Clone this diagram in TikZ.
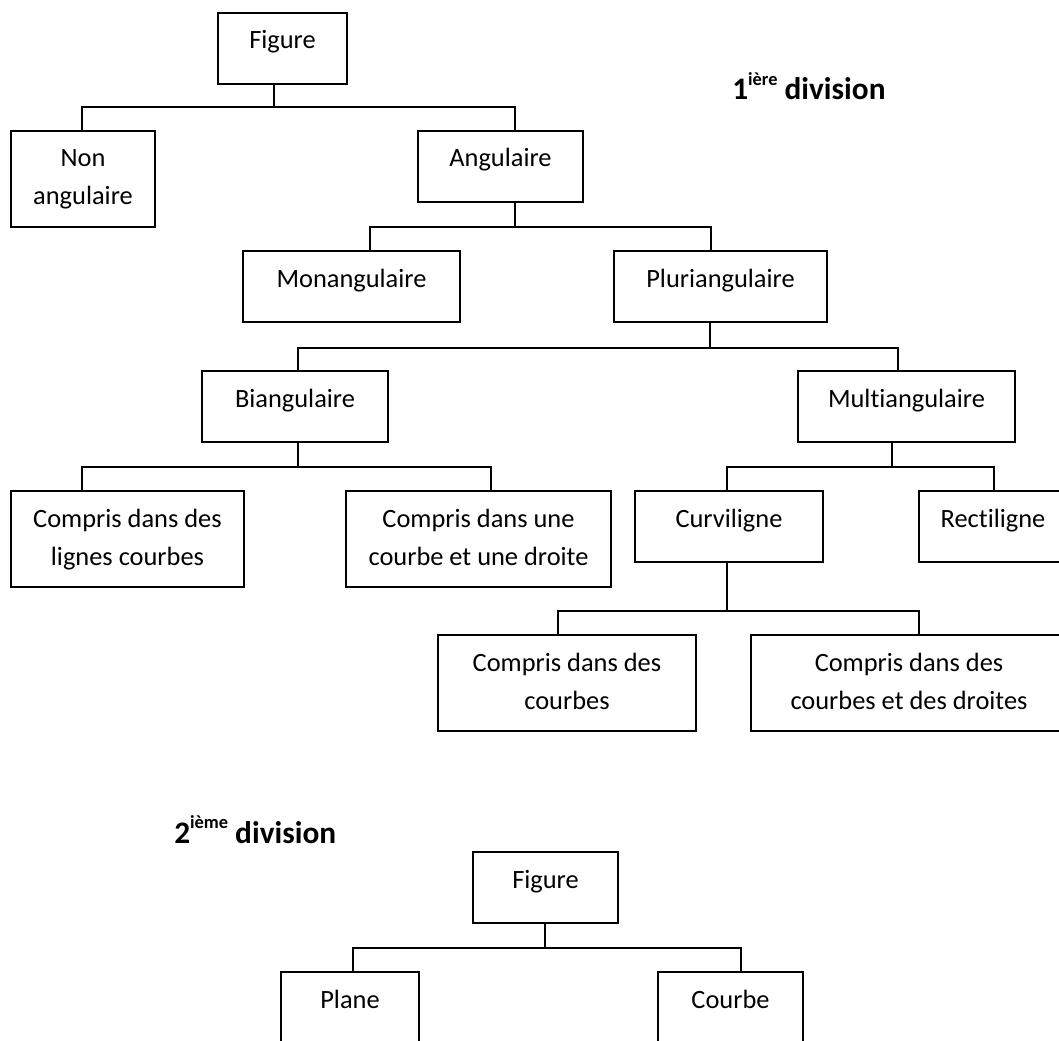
\documentclass[tikz,border=0pt]{standalone}
\usepackage{fontspec}
\setmainfont{Carlito}[Ligatures=NoCommon]
\newcommand\twol[2]{\begin{tabular}[t]{@{}c@{}}#1\\#2\end{tabular}}
\newcommand\headsup[1]{\raisebox{11pt}{\fontsize{13.8pt}{14pt}\selectfont #1}}
\begin{document}
\begin{tikzpicture}[x=0.75pt,y=-0.75pt,
  box/.style={draw, line width=1.3pt, inner sep=0pt, outer sep=0pt, anchor=north west,
    font=\fontsize{19.8pt}{28.5pt}\selectfont, text height=27pt},
  one/.style={box, text depth=26.25pt},
  two/.style={box, text depth=45pt},
  link/.style={line width=1.3pt},
  head/.style={font=\bfseries\fontsize{23.5pt}{28pt}\selectfont, inner sep=0pt, anchor=base west}]
\useasboundingbox (0,0) rectangle (1059,1041);
\clip (0,0) rectangle (1059,1041);

% headings
\node[head] (h1) at (732,100) {1\headsup{ière} division};
\node[head] (h2) at (174,843) {2\headsup{ième} division};

% first division
\node[one, minimum width=96.75pt] (fig1) at (218,13) {Figure};
\node[two, minimum width=108pt] (nonang) at (11,131) {\twol{Non}{angulaire}};
\node[one, minimum width=123.75pt] (ang) at (418,131) {Angulaire};
\node[one, minimum width=162.75pt] (mon) at (243,251) {Monangulaire};
\node[one, minimum width=159.75pt] (plu) at (614,251) {Pluriangulaire};
\node[one, minimum width=139.5pt] (bia) at (202,371) {Biangulaire};
\node[one, minimum width=162.75pt] (mul) at (798,371) {Multiangulaire};
\node[two, minimum width=174.75pt] (cl) at (11,491) {\twol{Compris dans des}{lignes courbes}};
\node[two, minimum width=198.75pt] (cd) at (346,491) {\twol{Compris dans une}{courbe et une droite}};
\node[one, minimum width=141pt] (cur) at (635,491) {Curviligne};
\node[one, minimum width=111pt] (rec) at (919,491) {Rectiligne};
\node[two, minimum width=193.5pt] (cc) at (438,635) {\twol{Compris dans des}{courbes}};
\node[two, minimum width=237pt] (ccd) at (751,635) {\twol{Compris dans des}{courbes et des droites}};

% second division
\node[one, minimum width=108.75pt] (fig2) at (473,852) {Figure};
\node[one, minimum width=103.5pt] (pla) at (281,972) {Plane};
\node[one, minimum width=108.75pt] (cou) at (658,972) {Courbe};

% connectors
\coordinate (a1) at (274,107); \coordinate (a1l) at (82,107); \coordinate (a1r) at (515,107);
\draw[link] (fig1.south -| a1) -- (a1);
\draw[link] (a1l |- nonang.north) -- (a1l) -- (a1r) -- (a1r |- ang.north);

\coordinate (a2) at (515,227); \coordinate (a2l) at (370,227); \coordinate (a2r) at (711,227);
\draw[link] (ang.south -| a2) -- (a2);
\draw[link] (a2l |- mon.north) -- (a2l) -- (a2r) -- (a2r |- plu.north);

\coordinate (a3) at (710,348); \coordinate (a3l) at (298,348); \coordinate (a3r) at (898,348);
\draw[link] (plu.south -| a3) -- (a3);
\draw[link] (a3l |- bia.north) -- (a3l) -- (a3r) -- (a3r |- mul.north);

\coordinate (a4) at (298,467); \coordinate (a4l) at (82,467); \coordinate (a4r) at (491,467);
\draw[link] (bia.south -| a4) -- (a4);
\draw[link] (a4l |- cl.north) -- (a4l) -- (a4r) -- (a4r |- cd.north);

\coordinate (a5) at (892,467); \coordinate (a5l) at (727,467); \coordinate (a5r) at (994,467);
\draw[link] (mul.south -| a5) -- (a5);
\draw[link] (a5l |- cur.north) -- (a5l) -- (a5r) -- (a5r |- rec.north);

\coordinate (a6) at (727,611); \coordinate (a6l) at (558,611); \coordinate (a6r) at (919,611);
\draw[link] (cur.south -| a6) -- (a6);
\draw[link] (a6l |- cc.north) -- (a6l) -- (a6r) -- (a6r |- ccd.north);

\coordinate (a7) at (545,948); \coordinate (a7l) at (353,948); \coordinate (a7r) at (741,948);
\draw[link] (fig2.south -| a7) -- (a7);
\draw[link] (a7l |- pla.north) -- (a7l) -- (a7r) -- (a7r |- cou.north);
\end{tikzpicture}
\end{document}
